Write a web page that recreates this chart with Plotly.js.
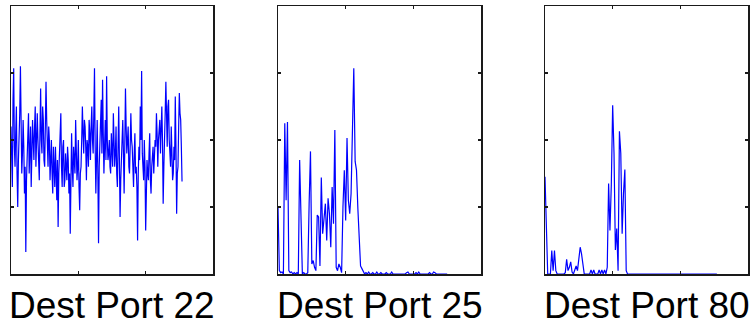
<!DOCTYPE html>
<html>
<head>
<meta charset="utf-8">
<script src="https://cdn.plot.ly/plotly-3.0.1.min.js"></script>
<style>html,body{margin:0;padding:0;background:#fff;}#chart{width:756px;height:328px;}</style>
</head>
<body>
<div id="chart"></div>
<script>
// Panel titles
const panelTitles = ["Dest Port 22", "Dest Port 25", "Dest Port 80"];

// Time steps between successive values of each series
const sampleSteps = [1, 2, 2];

// Dest Port 22 — values per time step
const port22 = [
  2.2,1.6,1.3,2.6,3.07,1.9,1.6,2.1,2.5,1.5,
  1.0,1.7,2.0,2.4,3.1,2.0,1.5,1.8,2.3,1.9,
  1.2,1.6,0.33,1.4,1.7,2.0,2.4,1.5,1.9,2.2,
  1.3,1.8,2.3,2.0,1.7,2.2,2.5,1.6,1.9,2.4,
  2.0,1.8,1.4,2.1,2.77,2.0,1.8,2.5,2.3,1.7,
  1.6,2.2,2.87,2.3,1.9,1.6,2.2,2.0,1.4,1.8,
  2.0,1.5,1.2,1.9,1.5,1.3,1.9,1.6,1.1,1.7,
  0.7,1.5,1.8,2.0,2.4,1.6,1.3,1.9,2.0,1.3,
  1.4,1.8,1.6,1.4,1.9,1.7,1.2,1.5,0.6,1.4,
  2.1,1.6,1.3,1.9,1.7,1.5,2.3,1.8,1.4,1.6,
  2.0,1.3,0.95,1.5,1.6,2.0,2.5,2.1,1.8,2.3,
  2.2,1.9,1.4,2.0,1.9,1.6,2.3,2.1,1.7,2.2,
  2.5,2.0,1.8,2.4,3.07,1.9,1.2,1.7,2.3,1.5,
  0.46,1.6,1.9,2.2,2.6,1.8,2.9,2.1,1.5,1.9,
  2.3,1.7,2.95,2.0,1.7,1.8,2.0,1.6,1.5,2.1,
  1.9,1.6,2.4,2.0,1.6,1.8,2.2,1.5,1.3,1.9,
  2.5,1.7,0.85,1.4,1.7,2.0,2.3,1.8,1.2,1.9,
  2.77,2.2,1.8,2.0,2.2,1.6,1.5,1.9,2.4,2.0,
  1.9,1.6,1.3,1.8,2.1,1.5,1.6,1.3,0.5,1.5,
  1.9,1.7,2.5,2.0,3.03,1.8,1.6,1.4,2.0,1.6,
  0.65,1.3,1.7,1.5,1.4,1.8,2.1,1.4,1.2,1.6,
  1.8,1.9,1.5,1.7,2.0,1.9,2.4,2.1,1.6,2.0,
  2.2,2.3,1.8,2.1,2.5,2.0,1.05,1.6,2.3,2.4,
  2.87,2.2,1.9,2.5,2.6,2.0,1.7,1.6,2.2,1.8,
  1.4,1.5,1.9,1.7,2.65,1.9,0.9,1.5,1.6,2.2,
  2.7,2.4,2.3,1.9,1.38
];

// Dest Port 25 — values per time step
const port25 = [
  1.0,0.05,0.02,0.03,0.0,2.25,1.1,2.27,0.05,0.02,
  0.03,0.0,0.02,0.0,0.02,0.0,1.7,0.83,0.0,0.02,
  0.0,0.0,0.02,1.05,1.83,0.15,0.2,0.1,0.05,0.88,
  0.85,0.12,1.44,0.6,0.8,1.05,0.5,1.13,0.9,0.4,
  1.3,0.75,2.15,0.1,0.05,0.15,0.1,0.02,1.0,1.55,
  0.8,2.03,1.1,0.9,1.2,2.25,3.07,1.68,1.55,0.98,
  0.6,0.12,0.08,0.03,0.0,0.02,0.0,0.03,0.0,0.0,
  0.02,0.0,0.0,0.03,0.0,0.0,0.02,0.0,0.0,0.0,
  0.02,0.0,0.0,0.0,0.03,0.0,0.0,0.0,0.0,0.0,
  0.0,0.0,0.0,0.0,0.0,0.02,0.03,0.0,0.0,0.0,
  0.0,0.0,0.02,0.0,0.03,0.0,0.0,0.0,0.0,0.0,
  0.0,0.0,0.02,0.0,0.0,0.03,0.02,0.0,0.0,0.0,
  0.0,0.0,0.0,0.0,0.0,0.0
];

// Dest Port 80 — values per time step
const port80 = [
  1.45,0.7,0.0,0.0,0.0,0.35,0.05,0.35,0.05,0.0,
  0.0,0.0,0.0,0.0,0.0,0.02,0.22,0.05,0.1,0.18,
  0.03,0.0,0.08,0.12,0.05,0.28,0.4,0.3,0.12,0.0,
  0.0,0.0,0.0,0.0,0.06,0.0,0.06,0.0,0.0,0.0,
  0.06,0.0,0.06,0.0,0.06,0.0,0.1,1.35,0.65,1.33,
  2.52,1.8,0.36,0.68,0.05,2.13,1.8,0.6,1.2,1.56,
  0.05,0.0,0.0,0.0,0.0,0.0,0.0,0.0,0.0,0.0,
  0.0,0.0,0.0,0.0,0.0,0.0,0.0,0.0,0.0,0.0,
  0.0,0.0,0.0,0.0,0.0,0.0,0.0,0.0,0.0,0.0,
  0.0,0.0,0.0,0.0,0.0,0.0,0.0,0.0,0.0,0.0,
  0.0,0.0,0.0,0.0,0.0,0.0,0.0,0.0,0.0,0.0,
  0.0,0.0,0.0,0.0,0.0,0.0,0.0,0.0,0.0,0.0,
  0.0,0.0,0.0,0.0,0.0,0.0,0.0,0.0
];

// Axis extents / tick positions (unlabelled ticks)
const xRange = [0, 300];
const xTicks = [100, 200];
const yRange = [0, 4];
const yTicks = [1, 2, 3];

const series = [port22, port25, port80];
const domains = [[11/756, 213/756], [278/756, 481/756], [545/756, 748/756]];

const traces = series.map((vals, k) => ({
  type: 'scatter',
  mode: 'lines',
  x: vals.map((_, i) => i * sampleSteps[k]),
  y: vals,
  xaxis: k === 0 ? 'x' : 'x' + (k + 1),
  yaxis: k === 0 ? 'y' : 'y' + (k + 1),
  line: {color: '#0000ff', width: 1.2},
  hoverinfo: 'skip',
  showlegend: false
}));

const axisCommon = {
  showline: true, linecolor: '#1a1a1a', linewidth: 1.5, mirror: 'ticks',
  ticks: 'inside', ticklen: 3, tickwidth: 1.2, tickcolor: '#1a1a1a',
  showticklabels: false, showgrid: false, zeroline: false, fixedrange: true
};

const layout = {
  width: 756, height: 328,
  margin: {l: 0, r: 0, t: 6, b: 54},
  paper_bgcolor: '#ffffff', plot_bgcolor: '#ffffff',
  annotations: []
};

domains.forEach((d, k) => {
  const sx = k === 0 ? '' : String(k + 1);
  layout['xaxis' + sx] = Object.assign({}, axisCommon, {
    domain: d, range: xRange, tickvals: xTicks, anchor: 'y' + sx
  });
  layout['yaxis' + sx] = Object.assign({}, axisCommon, {
    domain: [0, 1], range: yRange, tickvals: yTicks, anchor: 'x' + sx
  });
  layout.annotations.push({
    text: panelTitles[k], xref: 'paper', yref: 'paper',
    x: (d[0] + d[1]) / 2, y: -0.035, xanchor: 'center', yanchor: 'top',
    showarrow: false,
    font: {family: 'Liberation Sans, Arial, sans-serif', size: 37, color: '#000'}
  });
});

Plotly.newPlot('chart', traces, layout, {displayModeBar: false, staticPlot: true});
</script>
</body>
</html>
